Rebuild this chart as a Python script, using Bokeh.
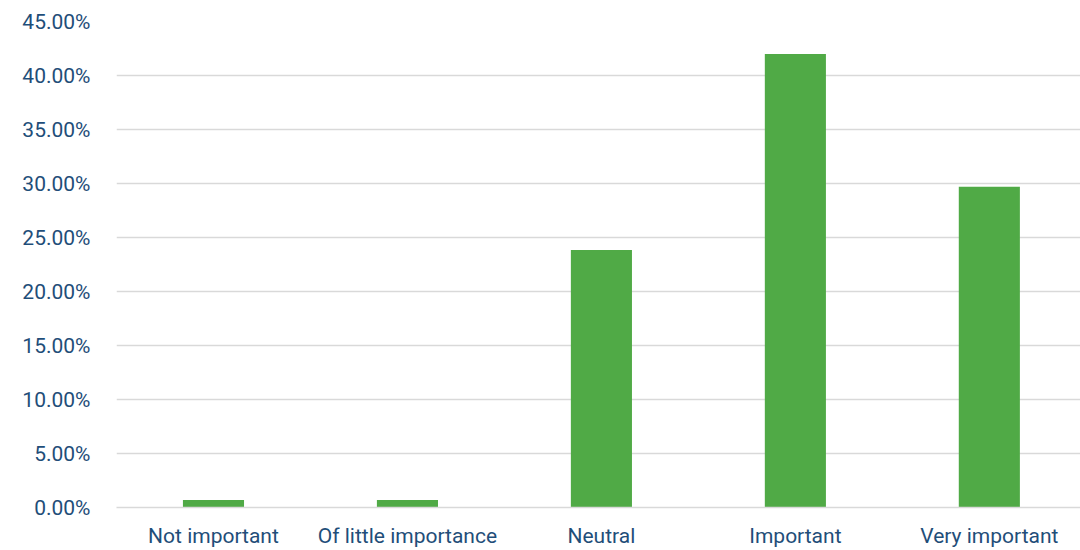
from bokeh.plotting import figure
from bokeh.models import Range1d, FixedTicker, NumeralTickFormatter, ColumnDataSource
from bokeh.embed import file_html
from bokeh.resources import INLINE

# Survey responses: share of respondents per importance rating
categories = ["Not important", "Of little importance", "Neutral", "Important", "Very important"]
shares = [0.69, 0.69, 23.85, 42.0, 29.7]
y_ticks = [0, 5, 10, 15, 20, 25, 30, 35, 40, 45]

TEXT = "#1F4E79"
GRID = "#D9D9D9"
BAR = "#50AA46"
FONT = "Roboto"

positions = [i + 0.5 for i in range(len(categories))]
src = ColumnDataSource(dict(x=positions, top=shares, cat=categories))

p = figure(
    width=1080, height=550,
    x_range=Range1d(0, 4.97), y_range=Range1d(0, 45),
    output_backend="svg", toolbar_location=None,
    min_border_left=116, min_border_right=0, min_border_top=21, min_border_bottom=20,
)
p.outline_line_color = None
p.background_fill_color = "white"
p.border_fill_color = "white"

p.vbar(x="x", top="top", width=0.315, bottom=0, source=src,
       fill_color=BAR, line_color=None)

# y axis: percentage labels, no line or ticks
p.yaxis.ticker = FixedTicker(ticks=y_ticks)
p.yaxis.formatter = NumeralTickFormatter(format="0.00")
p.yaxis.major_label_overrides = {t: f"{t:.2f}%" for t in y_ticks}
p.yaxis.axis_line_color = None
p.yaxis.major_tick_line_color = None
p.yaxis.minor_tick_line_color = None
p.yaxis.major_label_text_font = FONT
p.yaxis.major_label_text_font_size = "21px"
p.yaxis.major_label_text_color = TEXT
p.yaxis.major_label_standoff = 20

# x axis: category names at bar centres
p.xaxis.ticker = FixedTicker(ticks=positions)
p.xaxis.major_label_overrides = {pos: c for pos, c in zip(positions, categories)}
p.xaxis.axis_line_color = GRID
p.xaxis.axis_line_width = 1.5
p.xaxis.major_tick_line_color = None
p.xaxis.minor_tick_line_color = None
p.xaxis.major_label_text_font = FONT
p.xaxis.major_label_text_font_size = "21px"
p.xaxis.major_label_text_color = TEXT
p.xaxis.major_label_standoff = 10

p.xgrid.grid_line_color = None
p.ygrid.grid_line_color = GRID
p.ygrid.grid_line_width = 1.5

open("out.html", "w").write(file_html(p, INLINE))
